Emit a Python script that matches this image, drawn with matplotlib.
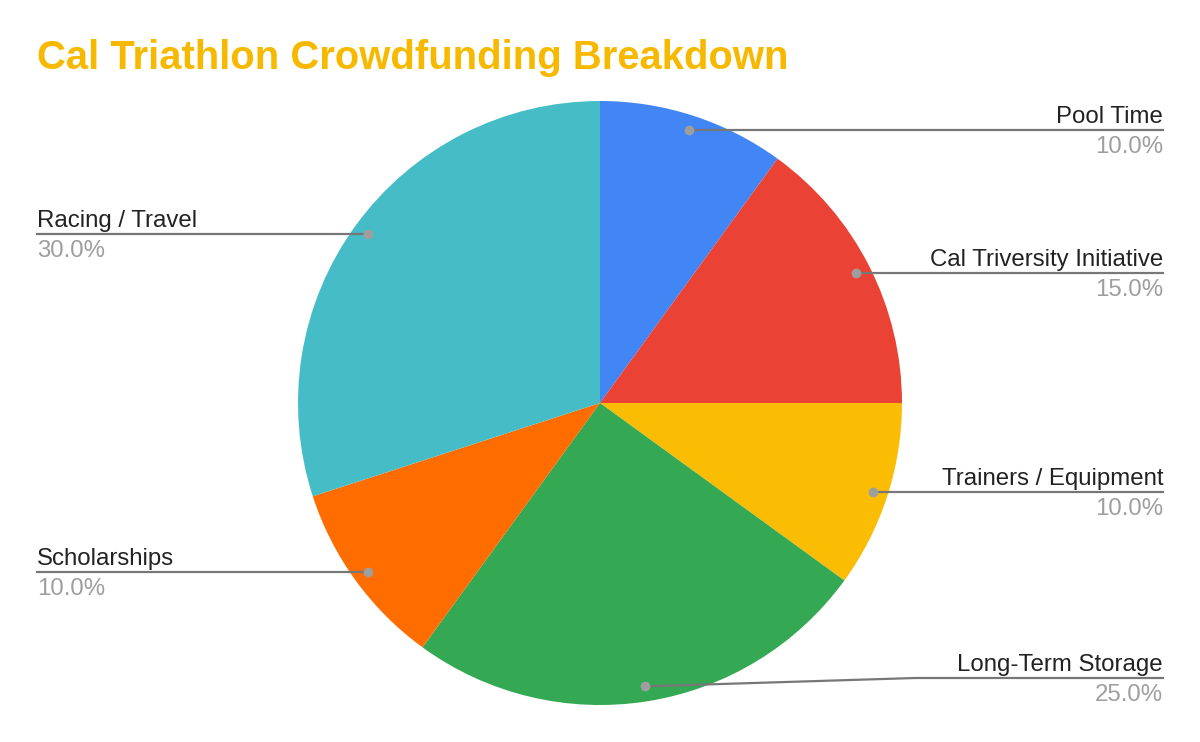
import matplotlib
matplotlib.use("Agg")
import matplotlib.pyplot as plt
import numpy as np
from matplotlib.patches import Wedge

categories = ["Pool Time", "Cal Triversity Initiative", "Trainers / Equipment",
              "Long-Term Storage", "Scholarships", "Racing / Travel"]
values = [10.0, 15.0, 10.0, 25.0, 10.0, 30.0]
colors = ["#4285F4", "#EA4335", "#FBBC04", "#34A853", "#FF6D01", "#46BDC6"]
title = "Cal Triathlon Crowdfunding Breakdown"

plt.rcParams['font.family'] = ['Liberation Sans', 'DejaVu Sans']

W, H = 1200, 742
fig = plt.figure(figsize=(W / 100, H / 100), dpi=100)
ax = fig.add_axes([0, 0, 1, 1])
ax.set_xlim(0, W)
ax.set_ylim(H, 0)
ax.set_aspect('equal')
ax.axis('off')

cx, cy, R = 600, 403, 302
total = sum(values)
start = 90.0
line_col = "#777777"
dot_col = "#9E9E9E"
for cat, v, c in zip(categories, values, colors):
    sweep = 360.0 * v / total
    end = start - sweep
    # y-down axes: angle theta maps to -theta
    ax.add_patch(Wedge((cx, cy), R, -start, -end, facecolor=c, linewidth=0))
    mid = np.deg2rad((start + end) / 2)
    dx = cx + 0.95 * R * np.cos(mid)
    dy = cy - 0.95 * R * np.sin(mid)
    ly = min(dy, 678)
    right = np.cos(mid) >= 0
    xe = 1163 if right else 37
    ax.plot([dx], [dy], 'o', color=dot_col, ms=6, zorder=5)
    if abs(ly - dy) > 1:
        xb = 915
        ax.plot([dx, xb, xe], [dy, ly, ly], color=line_col, lw=1.6, zorder=4)
    else:
        ax.plot([dx, xe], [dy, ly], color=line_col, lw=1.6, zorder=4)
    ha = 'right' if right else 'left'
    ax.text(xe, ly - 7, cat, ha=ha, va='baseline', fontsize=17.3, color="#222222")
    ax.text(xe, ly + 23, f"{v:.1f}%", ha=ha, va='baseline', fontsize=17.3, color="#9E9E9E")
    start = end

fig.text(37 / W, 1 - 69 / H, title, ha='left', va='baseline', fontsize=28.8,
         fontweight='bold', color="#F7B900")

fig.savefig("out.png", dpi=100, facecolor='white')
